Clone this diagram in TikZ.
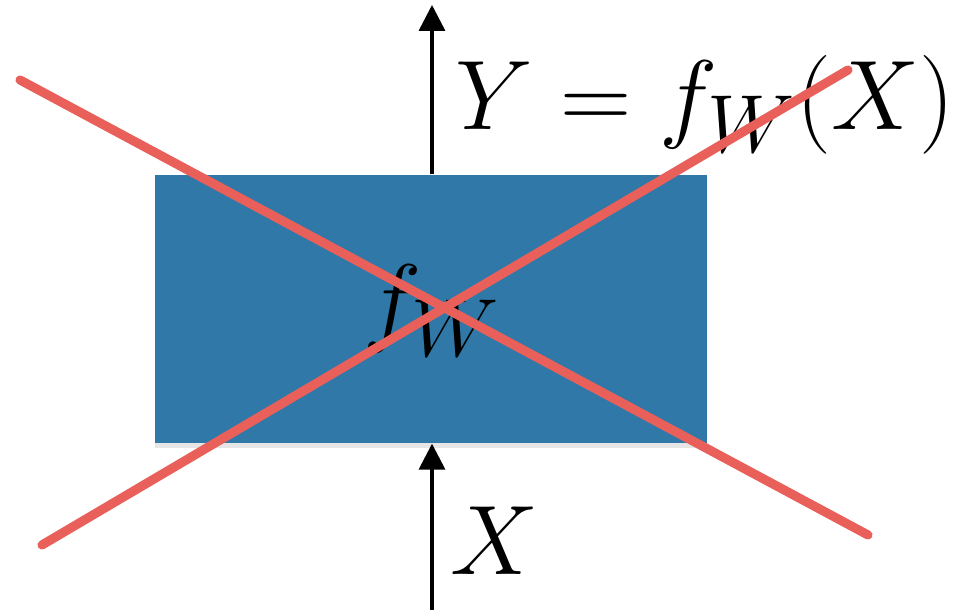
\documentclass[tikz,border=0pt]{standalone}
\usetikzlibrary{arrows.meta,shadows}
\definecolor{boxblue}{HTML}{2F78A8}
\definecolor{crossred}{HTML}{E9605A}
\begin{document}
\begin{tikzpicture}[
  flow/.style={-{Triangle[length=2.6mm,width=2.6mm]}, line width=1pt},
  bigmath/.style={font=\Huge, inner sep=0pt, scale=1.13, transform shape},
  cross/.style={crossred, line width=2.6pt, line cap=round}
]
  \useasboundingbox (0,0) rectangle (9.57,6.10);

  % Draw the network box
  \node[fill=boxblue, minimum width=5.52cm, minimum height=2.68cm,
        drop shadow={shadow xshift=0pt, shadow yshift=-0.5mm, opacity=0.2}]
        (box) at (4.31,3.01) {};
  \node[bigmath, anchor=base] (fw) at (4.32,2.76) {$f_W$};

  % Input and output arrows
  \coordinate (in) at (4.32,0);
  \coordinate (out) at (4.32,6.05);
  \draw[flow] (in) -- (in |- box.south);
  \draw[flow] (box.north -| out) -- (out);

  % Labels
  \node[bigmath, anchor=base west] (xlab) at (4.50,0.35) {$X$};
  \node[bigmath, anchor=base west] (ylab) at (4.55,4.80) {$Y = f_W(X)$};

  % Cross it out
  \coordinate (a1) at (0.20,5.30);
  \coordinate (a2) at (8.68,0.75);
  \coordinate (b1) at (0.42,0.65);
  \coordinate (b2) at (8.48,5.40);
  \draw[cross] (a1) -- (a2);
  \draw[cross] (b1) -- (b2);

\end{tikzpicture}
\end{document}
